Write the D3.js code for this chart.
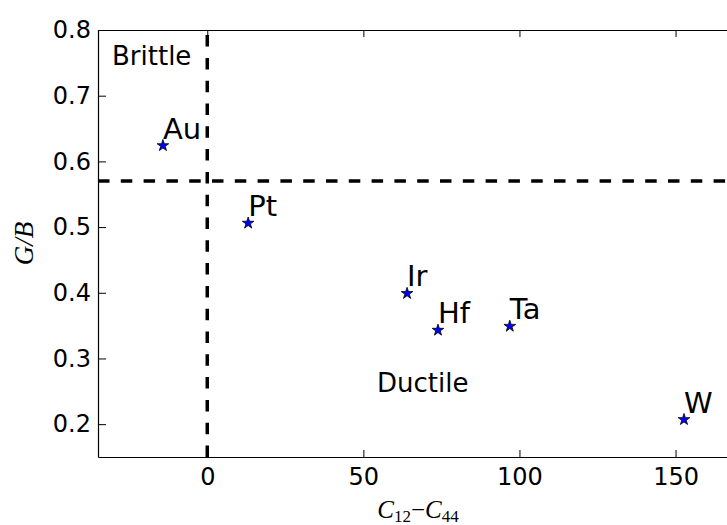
<!DOCTYPE html>
<html lang="en">
<head>
<meta charset="utf-8">
<script src="https://d3js.org/d3.v7.min.js"></script>
<style>
  body { margin: 0; background: #fff; }
  svg { display: block; }
  text { font-family: "DejaVu Sans", sans-serif; fill: #000; }
  .math { font-family: "Liberation Serif", "DejaVu Serif", serif; font-style: italic; }
</style>
</head>
<body>
<script>
// data
const metals = ["Au", "Pt", "Ir", "Hf", "Ta", "W"];
const cauchy = [-14.2, 13.1, 64.0, 73.9, 96.9, 152.7];   // C12 - C44
const pugh   = [0.624, 0.506, 0.399, 0.343, 0.349, 0.207]; // G/B
const xTicks = [0, 50, 100, 150];
const yTicks = [0.2, 0.3, 0.4, 0.5, 0.6, 0.7, 0.8];
const pughLimit = 0.57;
const cauchyLimit = 0;

const W = 727, H = 525;
const plotLeft = 98, plotTop = 30, plotBottom = 457;

const svg = d3.select("body").append("svg")
  .attr("width", W).attr("height", H);

const x = d3.scaleLinear().domain([-35, 170]).range([plotLeft, 738]);
const y = d3.scaleLinear().domain([0.15, 0.8]).range([plotBottom, plotTop]);

// bottom axis, ticks inward
const gx = svg.append("g")
  .attr("transform", `translate(0,${plotBottom})`)
  .call(d3.axisBottom(x).tickValues(xTicks).tickFormat(d3.format("d"))
    .tickSizeInner(-7).tickSizeOuter(0).tickPadding(11));
// top axis, no labels
const gt = svg.append("g")
  .attr("transform", `translate(0,${plotTop})`)
  .call(d3.axisTop(x).tickValues(xTicks).tickFormat("")
    .tickSizeInner(-7).tickSizeOuter(0));
// left axis
const gy = svg.append("g")
  .attr("transform", `translate(${plotLeft},0)`)
  .call(d3.axisLeft(y).tickValues(yTicks).tickFormat(d3.format(".1f"))
    .tickSizeInner(-8).tickSizeOuter(0).tickPadding(7));

[gx, gt, gy].forEach(g => {
  g.selectAll("path.domain").attr("stroke", "#000").attr("stroke-width", 1.2);
  g.selectAll(".tick line").attr("stroke", "#000").attr("stroke-width", 1);
  g.selectAll(".tick text").attr("font-size", 24).attr("font-family", "DejaVu Sans");
});

// dashed limit lines
svg.append("line")
  .attr("x1", x(-35)).attr("x2", x(170))
  .attr("y1", y(pughLimit)).attr("y2", y(pughLimit))
  .attr("stroke", "#000").attr("stroke-width", 3.5)
  .attr("stroke-dasharray", "11.5,11.3");
svg.append("line")
  .attr("x1", x(cauchyLimit)).attr("x2", x(cauchyLimit))
  .attr("y1", plotBottom).attr("y2", plotTop)
  .attr("stroke", "#000").attr("stroke-width", 3.5)
  .attr("stroke-dasharray", "11.5,11.3");

// points
const pts = metals.map((m, i) => ({ name: m, cx: cauchy[i], gb: pugh[i] }));

svg.selectAll("path.star")
  .data(pts)
  .enter()
  .append("path")
  .attr("class", "star")
  .attr("d", d3.symbol().type(d3.symbolStar).size(42))
  .attr("transform", d => `translate(${x(d.cx)},${y(d.gb)})`)
  .attr("fill", "#0000ff")
  .attr("stroke", "#000")
  .attr("stroke-width", 0.8);

svg.selectAll("text.lab")
  .data(pts)
  .enter()
  .append("text")
  .attr("class", "lab")
  .attr("x", d => x(d.cx))
  .attr("y", d => y(d.gb) - 7)
  .attr("font-size", 29)
  .text(d => d.name);

// region names
svg.append("text").attr("x", 112).attr("y", 65).attr("font-size", 26).text("Brittle");
svg.append("text").attr("x", 377).attr("y", 392).attr("font-size", 26).text("Ductile");

// axis titles
const xl = svg.append("text").attr("class", "math")
  .attr("x", 418).attr("y", 518).attr("text-anchor", "middle").attr("font-size", 25);
xl.append("tspan").text("C");
xl.append("tspan").attr("dy", 4).attr("font-size", 17).attr("font-style", "normal").text("12");
xl.append("tspan").attr("dy", -4).attr("font-style", "normal").text("\u2212");
xl.append("tspan").text("C");
xl.append("tspan").attr("dy", 4).attr("font-size", 17).attr("font-style", "normal").text("44");

svg.append("text").attr("class", "math")
  .attr("transform", `translate(33,${(plotTop + plotBottom) / 2}) rotate(-90)`)
  .attr("text-anchor", "middle").attr("font-size", 27)
  .text("G/B");
</script>
</body>
</html>
